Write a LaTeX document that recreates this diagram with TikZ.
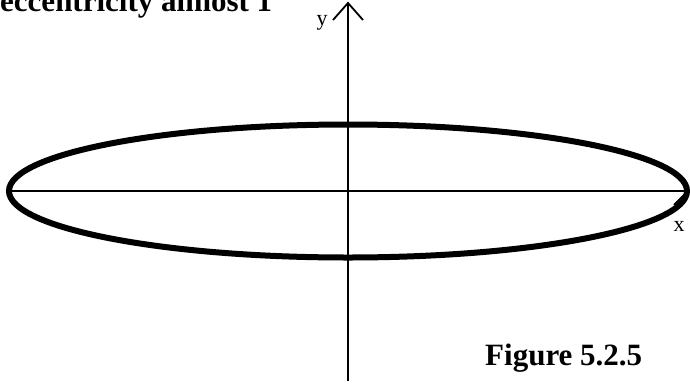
\documentclass[tikz,border=0pt]{standalone}
\usepackage{fontspec}
\setmainfont{Liberation Serif}
\tikzset{
  axisline/.style={line width=1.8pt, black},
  curveline/.style={line width=6pt, black},
  bigbold/.style={inner sep=0pt, font=\bfseries\fontsize{31}{36}\selectfont},
  axislabel/.style={inner sep=0pt, font=\fontsize{22}{26}\selectfont},
}
\begin{document}
\begin{tikzpicture}[x=1pt,y=-1pt]
\useasboundingbox (0,0) rectangle (690,386);
\coordinate (O) at (348,191);
\coordinate (ytop) at (348,3);
\coordinate (ybot) at (348,381);
\coordinate (xleft) at (8,191);
\coordinate (xright) at (688,191);
\coordinate (ywl) at (333,20);
\coordinate (ywr) at (363,20);
\coordinate (xwl) at (674,205);
% axes
\draw[axisline] (xleft) -- (xright);
\draw[axisline] (ybot) -- (ytop);
\draw[axisline, line join=miter] (ywl) -- (ytop) -- (ywr);
\draw[axisline] (xright) -- (xwl);
% ellipse
\draw[curveline] (O) ellipse [x radius=339, y radius=66.5];
% labels
\node[bigbold, anchor=base west] (title) at (0,11) {eccentricity almost 1};
\node[bigbold, anchor=base west] (fig) at (485,365) {Figure 5.2.5};
\node[axislabel, anchor=base] (ylab) at (322,25) {y};
\node[axislabel, anchor=base] (xlab) at (679,231.5) {x};
\end{tikzpicture}
\end{document}
